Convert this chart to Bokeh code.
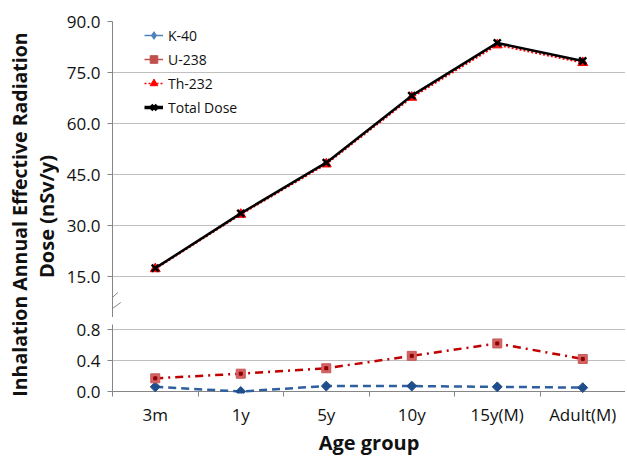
import math
from bokeh.plotting import figure
from bokeh.layouts import row, column
from bokeh.models import (Range1d, FixedTicker, PrintfTickFormatter, Legend, LegendItem,
                          ColumnDataSource, Span, Label, Arrow)
from bokeh.embed import file_html
from bokeh.resources import INLINE

# ---------------- data ----------------
categories = ["3m", "1y", "5y", "10y", "15y(M)", "Adult(M)"]
k40 = [0.06, 0.00, 0.07, 0.07, 0.06, 0.05]
u238 = [0.17, 0.23, 0.30, 0.46, 0.62, 0.42]
th232 = [17.3, 33.3, 48.1, 67.7, 83.1, 77.9]
total = [17.5, 33.6, 48.5, 68.2, 83.7, 78.4]
upper_ticks = [15, 30, 45, 60, 75, 90]
lower_ticks = [0.0, 0.4, 0.8]
series_names = ["K-40", "U-238", "Th-232", "Total Dose"]
y_title_1 = "Inhalation Annual Effective Radiation"
y_title_2 = "Dose (nSv/y)"
x_title = "Age group"

# ---------------- style ----------------
FONT = "Open Sans"
AXIS = "#868686"
GRID = "#BFBFBF"
TXT = "#111111"

xpos = list(range(len(categories)))
bounds = [i - 0.5 for i in range(len(categories) + 1)]
src = ColumnDataSource(dict(x=xpos, k40=k40, u238=u238, th232=th232, total=total))


def legend_src():
    # a single non-drawable point so that the legend swatch has something to style
    return ColumnDataSource(dict(x=[float("nan")], y=[float("nan")]))


x_range = Range1d(-0.5, len(categories) - 0.5)


def style_y(p, ticks):
    ax = p.yaxis[0]
    ax.ticker = FixedTicker(ticks=ticks, minor_ticks=[])
    ax.formatter = PrintfTickFormatter(format="%.1f")
    ax.axis_line_color = AXIS
    ax.major_tick_line_color = AXIS
    ax.major_tick_out = 5
    ax.major_tick_in = 0
    ax.minor_tick_line_color = None
    ax.major_label_standoff = 7
    ax.major_label_text_font = FONT
    ax.major_label_text_font_size = "17px"
    ax.major_label_text_color = TXT
    p.ygrid.ticker = FixedTicker(ticks=ticks, minor_ticks=[])
    p.ygrid.grid_line_color = GRID
    p.ygrid.grid_line_width = 1
    p.xgrid.visible = False
    p.outline_line_color = None


W_TITLE = 59
W_PLOT = 566

# ---------------- upper panel ----------------
top = figure(width=W_PLOT, height=317, x_range=x_range, y_range=Range1d(3.0, 90),
             output_backend="svg", toolbar_location=None,
             min_border_left=53, min_border_right=0, min_border_top=21, min_border_bottom=0)
top.xaxis.visible = False
style_y(top, upper_ticks)

top.line("x", "th232", source=src, line_color="#FF0000", line_width=2, line_dash="2 2")
top.scatter("x", "th232", source=src, marker="triangle", size=10,
            fill_color="#FF0000", line_color="#FF0000")
top.line("x", "total", source=src, line_color="black", line_width=2.5)
top.scatter("x", "total", source=src, marker="x", size=10, line_color="black", line_width=2.5)

# legend-only glyphs
lk1 = top.line("x", "y", source=legend_src(), line_color="#4F81BD", line_width=1.5)
lk2 = top.scatter("x", "y", source=legend_src(), marker="diamond", size=6,
                  fill_color="#4F81BD", line_color="#4F81BD")
lu1 = top.line("x", "y", source=legend_src(), line_color="#C0504D", line_width=1.5)
lu2 = top.scatter("x", "y", source=legend_src(), marker="square", size=5,
                  fill_color="#C0504D", line_color="#C0504D")
lt1 = top.line("x", "y", source=legend_src(), line_color="#FF0000", line_width=1.5,
               line_dash="2 2")
lt2 = top.scatter("x", "y", source=legend_src(), marker="triangle", size=10,
                  fill_color="#FF0000", line_color="#FF0000")
ld1 = top.line("x", "y", source=legend_src(), line_color="black", line_width=3.5)
ld2 = top.scatter("x", "y", source=legend_src(), marker="x", size=9, line_color="black",
                  line_width=3)

legend = Legend(items=[LegendItem(label=series_names[0], renderers=[lk1, lk2]),
                       LegendItem(label=series_names[1], renderers=[lu1, lu2]),
                       LegendItem(label=series_names[2], renderers=[lt1, lt2]),
                       LegendItem(label=series_names[3], renderers=[ld1, ld2])],
                location=(32, 200), padding=0, margin=0, spacing=4,
                glyph_width=19, glyph_height=20, label_height=20, label_standoff=5,
                label_text_font=FONT, label_text_font_size="14px", label_text_color=TXT,
                background_fill_alpha=0, border_line_alpha=0)
top.add_layout(legend)

# axis break marks
for (xs, ys, xe, ye) in [(-7.7, 13, 5.3, 25), (-5.7, 5, 8.3, 15)]:
    top.add_layout(Arrow(end=None, x_start=xs, y_start=ys, x_end=xe, y_end=ye,
                         start_units="screen", end_units="screen",
                         line_color=AXIS, line_width=1))

# ---------------- lower panel ----------------
PX_PER_UNIT = 77.5
bottom = figure(width=W_PLOT, height=141, x_range=x_range,
                y_range=Range1d(-2 / PX_PER_UNIT, 0.8 + 5 / PX_PER_UNIT),
                output_backend="svg", toolbar_location=None,
                min_border_left=53, min_border_right=0, min_border_top=7, min_border_bottom=65)
style_y(bottom, lower_ticks)
xa = bottom.xaxis[0]
xa.ticker = FixedTicker(ticks=xpos, minor_ticks=bounds)
xa.major_label_overrides = {i: c for i, c in enumerate(categories)}
xa.axis_line_color = None
xa.major_tick_line_color = None
xa.major_tick_in = 0
xa.major_tick_out = 0
xa.minor_tick_line_color = AXIS
xa.minor_tick_in = 2
xa.minor_tick_out = 3
xa.major_label_standoff = 6
xa.major_label_text_font = FONT
xa.major_label_text_font_size = "17px"
xa.major_label_text_color = TXT
xa.axis_label = x_title
xa.axis_label_text_font = FONT
xa.axis_label_text_font_size = "20px"
xa.axis_label_text_font_style = "bold"
xa.axis_label_text_color = TXT
xa.axis_label_standoff = 0

bottom.add_layout(Span(location=0, dimension="width", line_color=AXIS, line_width=1,
                       level="underlay"))

bottom.line("x", "k40", source=src, line_color="#2E5F9E", line_width=2.5, line_dash="8 5")
bottom.scatter("x", "k40", source=src, marker="square", angle=math.pi / 4, size=7,
               fill_color="#1F4E8C", line_color="#1F4E8C")
bottom.line("x", "u238", source=src, line_color="#C00000", line_width=2.5, line_dash="8 5 2 5")
bottom.scatter("x", "u238", source=src, marker="square", size=9,
               fill_color="#D46262", line_color="#C85A5A")
bottom.scatter("x", "u238", source=src, marker="square", size=3,
               fill_color="#8B0000", line_color="#8B0000")

# ---------------- y title ----------------
H_TOTAL = 458
tfig = figure(width=W_TITLE, height=H_TOTAL, x_range=Range1d(0, W_TITLE),
              y_range=Range1d(0, H_TOTAL),
              output_backend="svg", toolbar_location=None, min_border=0,
              x_axis_location=None, y_axis_location=None)
tfig.grid.visible = False
tfig.outline_line_color = None
tfig.add_layout(Label(x=18.5, y=244, text=y_title_1, angle=math.pi / 2,
                      text_align="center", text_baseline="middle", text_font=FONT,
                      text_font_size="19.5px", text_font_style="bold", text_color=TXT))
tfig.add_layout(Label(x=46, y=242, text=y_title_2, angle=math.pi / 2,
                      text_align="center", text_baseline="middle", text_font=FONT,
                      text_font_size="20px", text_font_style="bold", text_color=TXT))

layout = row(tfig, column(top, bottom))
open("out.html", "w").write(file_html(layout, INLINE))
